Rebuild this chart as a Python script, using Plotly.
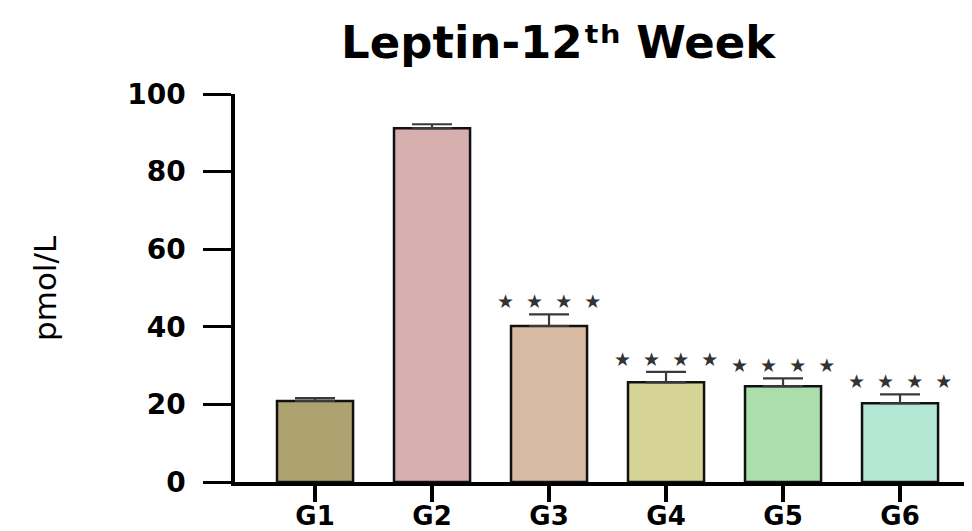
import plotly.graph_objects as go

groups = ["G1", "G2", "G3", "G4", "G5", "G6"]
means = [20.9, 91.2, 40.2, 25.7, 24.7, 20.3]
sems = [0.7, 1.0, 3.0, 2.7, 2.0, 2.3]
sig = ["", "", "****", "****", "****", "****"]
colors = ["#ADA270", "#D6AFAF", "#D8B9A1", "#D5D496", "#ABDEAB", "#B3E7D4"]

# the page body adds an 8px offset; compensate so the figure fills the window
OFF = 8
W, H = 972 - OFF, 531 - OFF
ML, MR, MT, MB = 235 - OFF, 0, 94 - OFF, 49
pw = W - ML - MR
ph = H - MT - MB


def px_x(x):
    return (x - OFF - ML) / pw


def px_y(y):
    return (H - MB - (y - OFF)) / ph


fig = go.Figure()
fig.add_trace(go.Bar(
    x=list(range(len(groups))), y=means,
    width=0.65,
    marker=dict(color=colors, line=dict(color="#111111", width=2.5)),
    error_y=dict(type="data", array=sems, arrayminus=[0] * len(sems),
                 symmetric=False, color="#3a3a3a", thickness=2.2, width=20),
    showlegend=False,
))

font_b = "DejaVu Sans"
for i, s in enumerate(sig):
    if s:
        fig.add_annotation(
            x=i, y=means[i] + sems[i], xref="x", yref="y",
            text="  ".join("★" * len(s)), showarrow=False,
            yanchor="middle", yshift=13,
            font=dict(family=font_b, size=19, color="#333333"),
        )

fig.add_annotation(
    x=px_x(558), y=px_y(42), xref="paper", yref="paper",
    text="Leptin-12ᵗʰ Week",
    showarrow=False, font=dict(family=font_b, size=45, color="#000000", weight="bold"),
    xanchor="center", yanchor="middle",
)

fig.add_annotation(
    x=px_x(45), y=px_y(288), xref="paper", yref="paper",
    text="pmol/L", textangle=-90, showarrow=False,
    font=dict(family=font_b, size=31, color="#000000"),
    xanchor="center", yanchor="middle",
)

fig.update_layout(
    width=W, height=H,
    margin=dict(l=ML, r=MR, t=MT, b=MB, pad=0, autoexpand=False),
    plot_bgcolor="white", paper_bgcolor="white",
)
fig.update_xaxes(
    range=[-0.684, 5.615], tickmode="array",
    tickvals=list(range(len(groups))), ticktext=groups,
    showline=True, linecolor="#000000", linewidth=3.5,
    ticks="outside", ticklen=16, tickwidth=4, tickcolor="#000000",
    ticklabelstandoff=-8, automargin=False,
    tickfont=dict(family=font_b, size=26, color="#000000", weight="bold"),
    showgrid=False, zeroline=False,
)
fig.update_yaxes(
    range=[0, 100], tickmode="array", tickvals=[0, 20, 40, 60, 80, 100],
    showline=True, linecolor="#000000", linewidth=3.5,
    ticks="outside", ticklen=28, tickwidth=3, tickcolor="#000000",
    ticklabelstandoff=12, automargin=False,
    tickfont=dict(family=font_b, size=28, color="#000000", weight="bold"),
    showgrid=False, zeroline=False,
)

fig.write_html("out.html")
